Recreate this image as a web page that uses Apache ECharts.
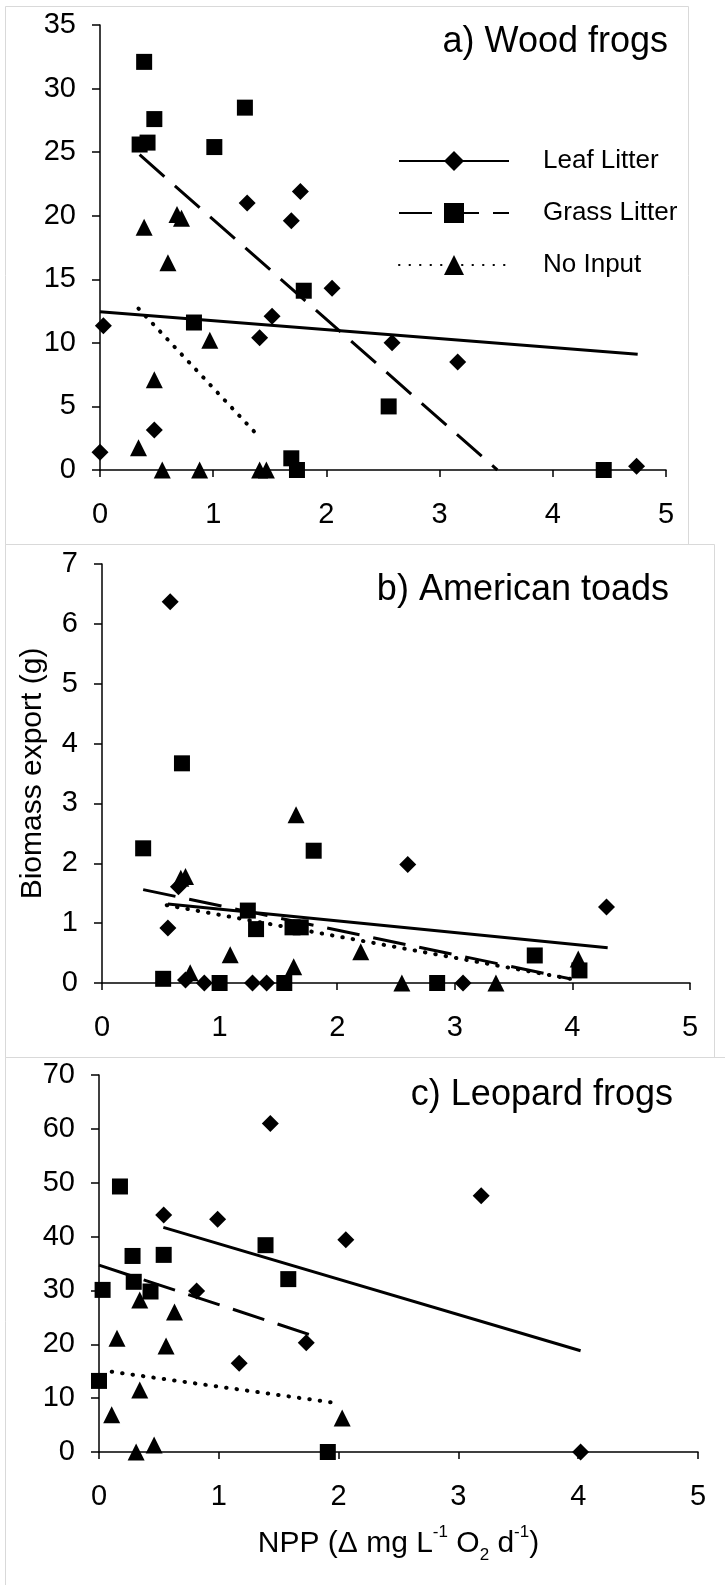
<!DOCTYPE html>
<html>
<head>
<meta charset="utf-8">
<script src="https://cdn.jsdelivr.net/npm/echarts/dist/echarts.min.js"></script>
<style>
  html, body { margin: 0; padding: 0; background: #fff; }
  #chart { width: 725px; height: 1585px; }
</style>
</head>
<body>
<div id="chart"></div>
<script>
const FONT = '"Liberation Sans", Arial, Helvetica, sans-serif';

// x axis (NPP) is the same for all three panels
const xRange = [0, 5];
const xStep = 1;

// a) Wood frogs
const yRangeA = [0, 35];
const yStepA = 5;
const woodLeaf = [[0.03, 11.35], [0, 1.39], [0.48, 3.15], [1.30, 21.0], [1.69, 19.6], [1.77, 21.9], [1.52, 12.1], [1.41, 10.4], [2.05, 14.3], [2.58, 10.0], [3.16, 8.5], [4.74, 0.3]];
const woodGrass = [[0.39, 32.1], [0.48, 27.6], [0.35, 25.6], [0.42, 25.75], [1.01, 25.4], [1.28, 28.5], [0.83, 11.6], [1.80, 14.1], [2.55, 5.0], [1.69, 0.92], [1.74, 0], [4.45, 0]];
const woodNone = [[0.39, 19.1], [0.68, 20.1], [0.72, 19.8], [0.60, 16.3], [0.97, 10.2], [0.48, 7.1], [0.34, 1.75], [0.55, 0], [0.88, 0], [1.41, 0], [1.47, 0]];
const woodLeafFit = [[0, 12.45], [4.75, 9.1]];
const woodGrassFit = [[0.35, 24.8], [3.51, 0]];
const woodNoneFit = [[0.34, 12.7], [1.41, 2.57]];

// b) American toads
const yRangeB = [0, 7];
const yStepB = 1;
const toadLeaf = [[0.58, 6.37], [0.65, 1.61], [0.56, 0.92], [2.60, 1.98], [4.29, 1.27], [0.71, 0.05], [0.87, 0], [1.28, 0], [1.40, 0], [3.07, 0]];
const toadGrass = [[0.35, 2.25], [0.68, 3.67], [1.80, 2.21], [1.24, 1.21], [1.31, 0.90], [1.62, 0.93], [1.69, 0.93], [0.52, 0.07], [1.00, 0], [1.55, 0], [2.85, 0], [3.68, 0.46], [4.06, 0.21]];
const toadNone = [[1.65, 2.81], [0.67, 1.75], [0.71, 1.78], [1.09, 0.47], [0.75, 0.17], [1.63, 0.27], [2.20, 0.52], [2.55, 0], [3.35, 0], [4.05, 0.40]];
const toadLeafFit = [[0.56, 1.32], [4.30, 0.59]];
const toadGrassFit = [[0.35, 1.56], [3.98, 0.07]];
const toadNoneFit = [[0.55, 1.30], [3.98, 0.07]];

// c) Leopard frogs
const yRangeC = [0, 70];
const yStepC = 10;
const leopLeaf = [[1.43, 61.0], [3.19, 47.6], [0.54, 44.0], [0.99, 43.2], [2.06, 39.4], [0.815, 29.9], [1.73, 20.3], [1.17, 16.5], [4.02, 0]];
const leopGrass = [[0.175, 49.3], [0.28, 36.4], [0.54, 36.6], [1.39, 38.4], [1.58, 32.1], [0.03, 30.1], [0.29, 31.6], [0.43, 29.8], [0, 13.2], [1.91, 0]];
const leopNone = [[0.34, 28.2], [0.63, 26.0], [0.15, 21.1], [0.56, 19.7], [0.34, 11.5], [0.106, 6.9], [2.03, 6.3], [0.46, 1.3], [0.31, 0]];
const leopLeafFit = [[0.537, 41.7], [4.02, 18.8]];
const leopGrassFit = [[0, 34.7], [1.84, 21.2]];
const leopNoneFit = [[0.106, 14.9], [2.01, 9.0]];

const treatments = ['Leaf Litter', 'Grass Litter', 'No Input'];
const panelTitles = ['a) Wood frogs', 'b) American toads', 'c) Leopard frogs'];

const chart = echarts.init(document.getElementById('chart'));

// per-treatment look: marker + trend line style
const looks = [
  { symbol: 'diamond', size: 17, line: { type: 'solid', width: 3 } },
  { symbol: 'rect', size: 16, line: { type: [33, 14], width: 3 } },
  { symbol: 'triangle', size: 17, line: { type: [0.5, 10], width: 4, cap: 'round' } }
];

const panels = [
  { pts: [woodLeaf, woodGrass, woodNone], fits: [woodLeafFit, woodGrassFit, woodNoneFit], y: yRangeA, step: yStepA },
  { pts: [toadLeaf, toadGrass, toadNone], fits: [toadLeafFit, toadGrassFit, toadNoneFit], y: yRangeB, step: yStepB },
  { pts: [leopLeaf, leopGrass, leopNone], fits: [leopLeafFit, leopGrassFit, leopNoneFit], y: yRangeC, step: yStepC }
];

const grids = [
  { left: 100, top: 25, width: 566, height: 445 },
  { left: 102, top: 564, width: 588, height: 419 },
  { left: 99, top: 1075, width: 599, height: 377 }
];

const axisLine = { show: true, lineStyle: { color: '#000', width: 1.5 } };
const axisTick = { show: true, length: 7, lineStyle: { color: '#000', width: 1.5 } };

const xAxis = panels.map((p, i) => ({
  gridIndex: i,
  type: 'value',
  min: xRange[0],
  max: xRange[1],
  interval: xStep,
  axisLine: axisLine,
  axisTick: axisTick,
  splitLine: { show: false },
  axisLabel: { margin: 30, fontSize: 29, color: '#000', fontFamily: FONT, showMinLabel: true, showMaxLabel: true }
}));
xAxis[2].name = 'NPP (Δ mg L{sup|-1} O{sub|2} d{sup|-1})';
xAxis[2].nameLocation = 'middle';
xAxis[2].nameGap = 72;
xAxis[2].nameTextStyle = {
  fontSize: 30, color: '#000', fontFamily: FONT, lineHeight: 40,
  rich: {
    sup: { fontSize: 17, color: '#000', fontFamily: FONT, lineHeight: 22, verticalAlign: 'top' },
    sub: { fontSize: 17, color: '#000', fontFamily: FONT, lineHeight: 22, verticalAlign: 'bottom' }
  }
};

const yAxis = panels.map((p, i) => ({
  gridIndex: i,
  type: 'value',
  min: p.y[0],
  max: p.y[1],
  interval: p.step,
  axisLine: axisLine,
  axisTick: Object.assign({}, axisTick, { length: 8 }),
  splitLine: { show: false },
  axisLabel: { margin: 24, fontSize: 29, color: '#000', fontFamily: FONT, showMinLabel: true, showMaxLabel: true }
}));
yAxis[1].name = 'Biomass export (g)';
yAxis[1].nameLocation = 'middle';
yAxis[1].nameGap = 54;
yAxis[1].nameTextStyle = { fontSize: 30, color: '#000', fontFamily: FONT };

const series = [];
panels.forEach((p, i) => {
  treatments.forEach((t, k) => {
    series.push({
      name: i === 0 ? t : t + ' trend ' + i,
      type: 'line',
      xAxisIndex: i,
      yAxisIndex: i,
      data: p.fits[k],
      symbol: looks[k].symbol,
      symbolSize: looks[k].size,
      showSymbol: false,
      color: '#000',
      lineStyle: Object.assign({ color: '#000' }, looks[k].line),
      silent: true,
      z: 2
    });
  });
});
panels.forEach((p, i) => {
  treatments.forEach((t, k) => {
    series.push({
      name: t + ' points ' + i,
      type: 'scatter',
      xAxisIndex: i,
      yAxisIndex: i,
      data: p.pts[k],
      symbol: looks[k].symbol,
      symbolSize: looks[k].size,
      itemStyle: { color: '#000', opacity: 1 },
      z: 3
    });
  });
});

const option = {
  backgroundColor: '#fff',
  animation: false,
  title: [
    { text: panelTitles[0], right: 57, top: 22 },
    { text: panelTitles[1], right: 56, top: 570 },
    { text: panelTitles[2], right: 52, top: 1075 }
  ].map(o => Object.assign(o, {
    padding: 0,
    textStyle: { fontSize: 36, fontWeight: 'normal', color: '#000', fontFamily: FONT, lineHeight: 40 }
  })),
  legend: {
    data: treatments,
    orient: 'vertical',
    left: 393,
    top: 143,
    itemWidth: 110,
    itemHeight: 25,
    itemGap: 26,
    selectedMode: false,
    textStyle: { fontSize: 26, color: '#000', fontFamily: FONT, lineHeight: 25, padding: [0, 0, 0, 29] }
  },
  grid: grids.map(g => Object.assign({ outerBoundsMode: 'none', containLabel: false }, g)),
  xAxis: xAxis,
  yAxis: yAxis,
  series: series,
  graphic: [
    { type: 'rect', silent: true, z: -10, shape: { x: 5.5, y: 1057.5, width: 760, height: 560 }, style: { fill: 'none', stroke: '#d9d9d9', lineWidth: 1 } },
    { type: 'rect', silent: true, z: -10, shape: { x: 5.5, y: 544.5, width: 709, height: 513 }, style: { fill: 'none', stroke: '#d9d9d9', lineWidth: 1 } },
    { type: 'rect', silent: true, z: -10, shape: { x: 5.5, y: 6.5, width: 683, height: 538 }, style: { fill: 'none', stroke: '#d9d9d9', lineWidth: 1 } }
  ]
};

chart.setOption(option);
</script>
</body>
</html>
